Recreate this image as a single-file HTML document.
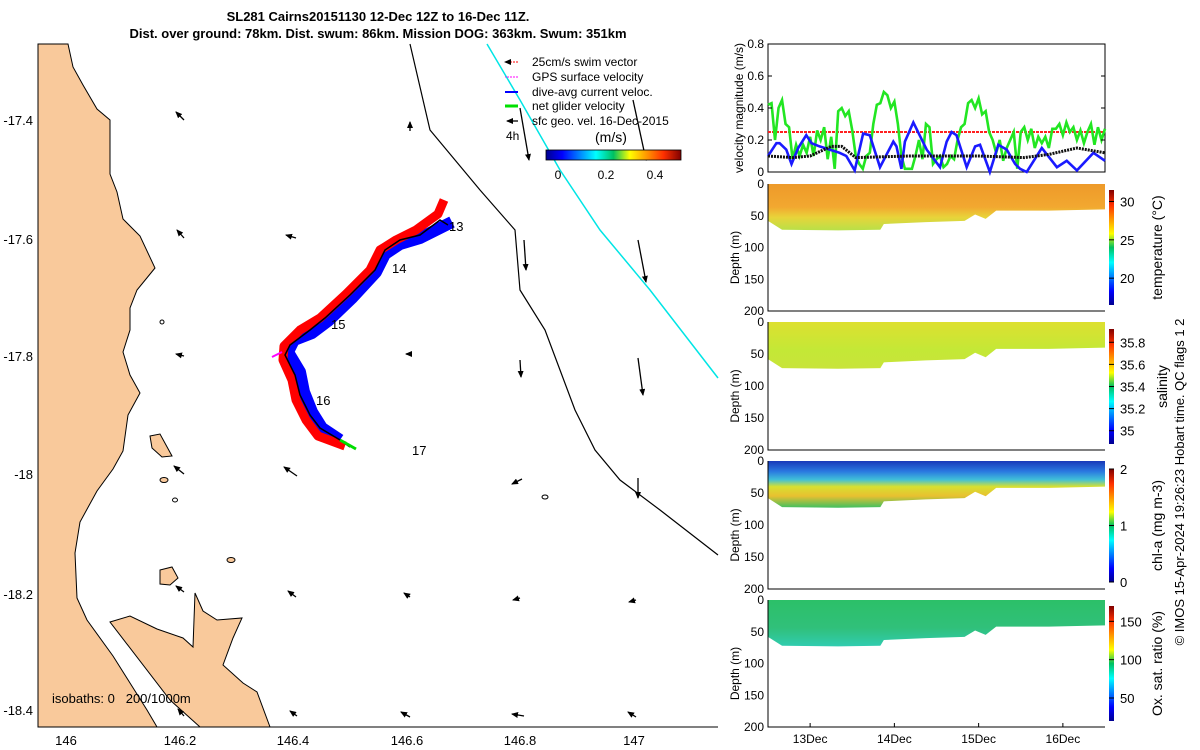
<!DOCTYPE html>
<html><head><meta charset="utf-8"><style>
html,body{margin:0;padding:0;background:#fff;}
svg{display:block;font-family:"Liberation Sans","DejaVu Sans",sans-serif;}
</style></head><body>
<svg id="fig" width="1200" height="750" viewBox="0 0 1200 750">
<defs>
<linearGradient id="jetV" x1="0" y1="1" x2="0" y2="0">
<stop offset="0" stop-color="#00008f"/><stop offset="0.12" stop-color="#0000ff"/><stop offset="0.37" stop-color="#00ffff"/><stop offset="0.5" stop-color="#00c060"/><stop offset="0.62" stop-color="#ffff00"/><stop offset="0.87" stop-color="#ff3000"/><stop offset="1" stop-color="#800000"/></linearGradient>
<linearGradient id="jetH" x1="0" y1="0" x2="1" y2="0">
<stop offset="0" stop-color="#00008f"/><stop offset="0.12" stop-color="#0000ff"/><stop offset="0.37" stop-color="#00ffff"/><stop offset="0.5" stop-color="#00c060"/><stop offset="0.62" stop-color="#ffff00"/><stop offset="0.87" stop-color="#ff3000"/><stop offset="1" stop-color="#800000"/></linearGradient>
<linearGradient id="gTemp" x1="0" y1="0" x2="0" y2="1"><stop offset="0" stop-color="#ee9a2a"/><stop offset="0.5" stop-color="#f2a830"/><stop offset="0.72" stop-color="#e8d43a"/><stop offset="1" stop-color="#b8e048"/></linearGradient>
<linearGradient id="gSal" x1="0" y1="0" x2="0" y2="1"><stop offset="0" stop-color="#dde030"/><stop offset="0.6" stop-color="#c4e836"/><stop offset="1" stop-color="#c8e43a"/></linearGradient>
<linearGradient id="gChl" x1="0" y1="0" x2="0" y2="1"><stop offset="0" stop-color="#1838b8"/><stop offset="0.22" stop-color="#2a78e0"/><stop offset="0.4" stop-color="#40c0d8"/><stop offset="0.55" stop-color="#d8e030"/><stop offset="0.75" stop-color="#e8c030"/><stop offset="1" stop-color="#40c060"/></linearGradient>
<linearGradient id="gOx" x1="0" y1="0" x2="0" y2="1"><stop offset="0" stop-color="#2cc068"/><stop offset="0.6" stop-color="#30c07a"/><stop offset="1" stop-color="#30ccb0"/></linearGradient>
<marker id="ah" markerUnits="userSpaceOnUse" markerWidth="7" markerHeight="6" refX="6" refY="3" orient="auto"><path d="M0,0 L7,3 L0,6 z" fill="#000"/></marker>
</defs>

<text x="378" y="21" text-anchor="middle" font-size="13" font-weight="bold">SL281 Cairns20151130 12-Dec 12Z to 16-Dec 11Z.</text>
<text x="378" y="38" text-anchor="middle" font-size="13" font-weight="bold">Dist. over ground: 78km. Dist. swum: 86km. Mission DOG: 363km. Swum: 351km</text>

<g id="map">
<path fill="#f9c99b" stroke="#000" stroke-width="1" d="M38,44 L68,44 L73,67 L83,85 L97,109 L110,120 L110,174 L117,192 L123,219 L140,236 L155,268 L137,290 L130,308 L130,330 L123,352 L130,375 L140,393 L128,415 L123,451 L113,469 L97,491 L80,522 L75,553 L77,598 L87,620 L113,656 L130,683 L147,710 L157,727 L38,727 Z"/>
<path fill="#f9c99b" stroke="#000" stroke-width="1" d="M110,622 L130,616 L157,629 L183,638 L193,647 L195,593 L203,611 L217,620 L242,618 L233,638 L223,665 L243,683 L257,692 L270,727 L200,727 L170,700 Z"/>
<path fill="#f9c99b" stroke="#000" d="M150,436 L160,434 L166,445 L172,456 L162,457 L152,448 Z"/>
<path fill="#f9c99b" stroke="#000" d="M160,570 L172,567 L178,578 L170,585 L160,584 Z"/>
<ellipse cx="164" cy="480" rx="4" ry="2.5" fill="#f9c99b" stroke="#000"/>
<ellipse cx="175" cy="500" rx="2.5" ry="2" fill="none" stroke="#000"/>
<ellipse cx="231" cy="560" rx="4" ry="2.5" fill="#f9c99b" stroke="#000"/>
<ellipse cx="545" cy="497" rx="3" ry="2" fill="none" stroke="#000"/>
<ellipse cx="162" cy="322" rx="2" ry="2" fill="none" stroke="#000"/>
<polyline fill="none" stroke="#000" stroke-width="1.2" points="410,44 430,130 480,190 515,230 520,290 545,330 560,370 575,410 595,450 620,480 660,510 718,555"/>
<polyline fill="none" stroke="#00e5e5" stroke-width="1.5" points="487,44 520,100 560,170 600,230 650,290 718,378"/>
<g id="arrows" stroke="#000" stroke-width="1.3" fill="none">
<line x1="184" y1="120" x2="176" y2="112" marker-end="url(#ah)"/>
<line x1="410" y1="131" x2="410" y2="122" marker-end="url(#ah)"/>
<line x1="520" y1="108" x2="529" y2="160" marker-end="url(#ah)"/>
<line x1="633" y1="100" x2="646" y2="160" marker-end="url(#ah)"/>
<line x1="184" y1="238" x2="177" y2="230" marker-end="url(#ah)"/>
<line x1="296" y1="238" x2="286" y2="235" marker-end="url(#ah)"/>
<line x1="524" y1="240" x2="526" y2="270" marker-end="url(#ah)"/>
<line x1="638" y1="240" x2="646" y2="282" marker-end="url(#ah)"/>
<line x1="184" y1="356" x2="176" y2="354" marker-end="url(#ah)"/>
<line x1="410" y1="354" x2="406" y2="354" marker-end="url(#ah)"/>
<line x1="520" y1="360" x2="521" y2="377" marker-end="url(#ah)"/>
<line x1="638" y1="358" x2="643" y2="395" marker-end="url(#ah)"/>
<line x1="184" y1="474" x2="174" y2="466" marker-end="url(#ah)"/>
<line x1="297" y1="476" x2="284" y2="467" marker-end="url(#ah)"/>
<line x1="522" y1="479" x2="512" y2="484" marker-end="url(#ah)"/>
<line x1="638" y1="478" x2="638" y2="498" marker-end="url(#ah)"/>
<line x1="184" y1="592" x2="176" y2="586" marker-end="url(#ah)"/>
<line x1="296" y1="597" x2="288" y2="591" marker-end="url(#ah)"/>
<line x1="410" y1="597" x2="404" y2="593" marker-end="url(#ah)"/>
<line x1="520" y1="598" x2="513" y2="600" marker-end="url(#ah)"/>
<line x1="636" y1="600" x2="629" y2="602" marker-end="url(#ah)"/>
<line x1="184" y1="716" x2="178" y2="709" marker-end="url(#ah)"/>
<line x1="297" y1="716" x2="290" y2="711" marker-end="url(#ah)"/>
<line x1="410" y1="717" x2="401" y2="712" marker-end="url(#ah)"/>
<line x1="524" y1="716" x2="512" y2="714" marker-end="url(#ah)"/>
<line x1="636" y1="717" x2="628" y2="712" marker-end="url(#ah)"/>
</g>
<polyline fill="none" stroke="#0000ff" stroke-width="12" stroke-linejoin="round" points="452,222 440,228 420,238 400,244 385,254 376,272 352,298 328,321 312,333 294,340 288,352 300,372 304,392 312,412 322,428 340,440"/>
<polyline fill="none" stroke="#ff0000" stroke-width="9" stroke-linejoin="round" points="444,200 438,214 416,230 396,240 380,250 370,270 346,294 320,318 300,330 284,346 283,360 292,380 296,400 306,420 318,436 345,446"/>
<polyline fill="none" stroke="#000" stroke-width="1.5" points="448,225 440,220 420,235 400,240 385,250 375,270 350,295 325,318 310,330 290,345 285,355 295,375 300,395 310,415 320,428 340,440 350,447"/>
<line x1="340" y1="440" x2="356" y2="449" stroke="#00dd00" stroke-width="3"/>
<line x1="282" y1="352" x2="272" y2="357" stroke="#ff00ff" stroke-width="2"/>
<g font-size="13">
<text x="449" y="231">13</text><text x="392" y="273">14</text><text x="331" y="329">15</text><text x="316" y="405">16</text><text x="412" y="455">17</text></g>
<line x1="38" y1="44" x2="38" y2="727" stroke="#000"/>
<line x1="38" y1="727" x2="718" y2="727" stroke="#000"/>
<text x="52" y="703" font-size="13">isobaths: 0 &#160; 200/1000m</text>
<g font-size="13" text-anchor="end">
<text x="33" y="125">-17.4</text><text x="33" y="244">-17.6</text><text x="33" y="361">-17.8</text><text x="33" y="479">-18</text><text x="33" y="599">-18.2</text><text x="33" y="715">-18.4</text></g>
<g font-size="13" text-anchor="middle">
<text x="66" y="745">146</text><text x="180" y="745">146.2</text><text x="293" y="745">146.4</text><text x="407" y="745">146.6</text><text x="520" y="745">146.8</text><text x="634" y="745">147</text></g>
<g font-size="12">
<line x1="518" y1="62" x2="505" y2="62" stroke="#ff0000" stroke-dasharray="2,1" marker-end="url(#ah)"/><text x="532" y="66">25cm/s swim vector</text>
<line x1="518" y1="77" x2="505" y2="77" stroke="#ff00ff" stroke-dasharray="2,1"/><text x="532" y="81">GPS surface velocity</text>
<line x1="518" y1="92" x2="505" y2="92" stroke="#0000ff" stroke-width="2"/><text x="532" y="96">dive-avg current veloc.</text>
<line x1="518" y1="106" x2="505" y2="106" stroke="#00e000" stroke-width="3"/><text x="532" y="110">net glider velocity</text>
<line x1="518" y1="121" x2="507" y2="121" stroke="#000" stroke-width="1.3" marker-end="url(#ah)"/><text x="532" y="125">sfc geo. vel. 16-Dec-2015</text>
<text x="506" y="140">4h</text>
<text x="595" y="142" font-size="14">(m/s)</text>
<rect x="546" y="150" width="135" height="10" fill="url(#jetH)" stroke="#000" stroke-width="0.8"/>
<text x="558" y="179" text-anchor="middle">0</text><text x="606" y="179" text-anchor="middle">0.2</text><text x="655" y="179" text-anchor="middle">0.4</text>
</g>
</g>

<g id="vel">
<rect x="768" y="44" width="337" height="128" fill="none" stroke="#000"/>
<g id="velMarks"></g>
<text transform="translate(743,108) rotate(-90)" text-anchor="middle" font-size="12">velocity magnitude (m/s)</text>
<g id="velTicks" font-size="12" text-anchor="end"></g>
</g>
<g id="sections"></g>
<text transform="translate(1184,482) rotate(-90)" text-anchor="middle" font-size="13">© IMOS 15-Apr-2024 19:26:23 Hobart time. QC flags 1  2</text>
</svg>
<script>
const NS='http://www.w3.org/2000/svg';
const velTickValues=[0,0.2,0.4,0.6,0.8];
const greenValues=[0.42,0.43,0.2,0.4,0.45,0.3,0.28,0.08,0.17,0.1,0.17,0.12,0.22,0.1,0.26,0.2,0.28,0.08,0.22,0.02,0.38,0.4,0.35,0.38,0.26,0.1,0.05,0.02,0.1,0.12,0.3,0.42,0.43,0.5,0.48,0.4,0.44,0.3,0.1,0.02,0.02,0.02,0.1,0.2,0.08,0.3,0.28,0.05,0.08,0.1,0.03,0.05,0.1,0.08,0.2,0.28,0.3,0.43,0.45,0.4,0.46,0.36,0.38,0.25,0.2,0.12,0.2,0.07,0.15,0.2,0.25,0.02,0.25,0.28,0.2,0.27,0.15,0.22,0.18,0.22,0.15,0.27,0.27,0.3,0.23,0.31,0.25,0.28,0.2,0.26,0.18,0.25,0.3,0.17,0.28,0.2,0.27];
const blueHours=[0,2.4,3.3,5.2,6.7,8.6,10.9,12.4,14.7,17.6,20.4,22.3,24.7,27.1,29,31.9,35.7,36.6,38,39,41.4,45.2,49,50.9,52.3,53.7,56.6,59,60.4,63.2,65.6,68,70.4,71.8,73.7,78,82.3,85.1,88,92.7,96];
const blueValues=[0.1,0.18,0.18,0.14,0.05,0.15,0.23,0.18,0.16,0.14,0.12,0.1,0.01,0.24,0.23,0.03,0.19,0.16,0.02,0.19,0.31,0.14,0.03,0.19,0.25,0.23,0.03,0.16,0.17,0.0,0.17,0.14,0.05,0.02,0.0,0.15,0.03,0.07,0.01,0.12,0.07];
const blackHours=[0,7,12,18,21,25,40,60,73,80,88,96];
const blackValues=[0.1,0.09,0.1,0.16,0.16,0.09,0.1,0.1,0.09,0.11,0.15,0.12];
const swimSpeed=[0.25];
const dayLabels=['13Dec','14Dec','15Dec','16Dec'];
const dayHours=[12,36,60,84];
const depthTicks=[0,50,100,150,200];
const bottomHours=[0,4,20,32,33,45,56,59,62,65,80,96];
const bottomDepths=[58,72,73,72,63,60,58,48,55,42,42,40];
const tempTicks=[20,25,30];const tempRange=[16.5,31.5];
const salTicks=[35,35.2,35.4,35.6,35.8];const salRange=[34.88,35.92];
const chlTicks=[0,1,2];const chlRange=[0,2];
const oxTicks=[50,100,150];const oxRange=[20,170];

const X=h=>768+h*(337/96);
const VY=v=>172-v*160;
function mk(tag,parent){const e=document.createElementNS(NS,tag);parent.appendChild(e);return e;}

const vm=document.getElementById('velMarks');
let sw=mk('line',vm);


sw.setAttribute('x1',X(0));sw.setAttribute('x2',X(96));sw.setAttribute('y1',VY(swimSpeed[0]));sw.setAttribute('y2',VY(swimSpeed[0]));
sw.setAttribute('stroke','#ff2020');sw.setAttribute('stroke-width','2');sw.setAttribute('stroke-dasharray','3,1');
let g=mk('polyline',vm);


g.setAttribute('points',greenValues.map((v,i)=>X(i)+','+VY(v)).join(' '));
g.setAttribute('fill','none');g.setAttribute('stroke','#22e622');g.setAttribute('stroke-width','2.6');
let b=mk('polyline',vm);


b.setAttribute('points',blueHours.map((h,i)=>X(h)+','+VY(blueValues[i])).join(' '));
b.setAttribute('fill','none');b.setAttribute('stroke','#1a1aff');b.setAttribute('stroke-width','2.6');
let k=mk('polyline',vm);


k.setAttribute('points',blackHours.map((h,i)=>X(h)+','+VY(blackValues[i])).join(' '));
k.setAttribute('fill','none');k.setAttribute('stroke','#111');k.setAttribute('stroke-width','3');k.setAttribute('stroke-dasharray','2,1');
const vt=document.getElementById('velTicks');
velTickValues.forEach(v=>{
 let t=mk('text',vt);
 
 
 t.setAttribute('x',764);t.setAttribute('y',VY(v)+4);t.textContent=v;
 let l=mk('line',vt);l.setAttribute('x1',1105);l.setAttribute('x2',1101);l.setAttribute('y1',VY(v));l.setAttribute('y2',VY(v));l.setAttribute('stroke','#000');
 let l2=mk('line',vt);l2.setAttribute('x1',768);l2.setAttribute('x2',772);l2.setAttribute('y1',VY(v));l2.setAttribute('y2',VY(v));l2.setAttribute('stroke','#000');
});

const panels=[
 {name:'temperature',top:184,bot:311,fill:'url(#gTemp)',label:'temperature (°C)',ticks:tempTicks,range:tempRange,cb:[190,305]},
 {name:'salinity',top:322,bot:450,fill:'url(#gSal)',label:'salinity',ticks:salTicks,range:salRange,cb:[329,444]},
 {name:'chlorophyll',top:461,bot:589,fill:'url(#gChl)',label:'chl-a (mg m-3)',ticks:chlTicks,range:chlRange,cb:[469,582]},
 {name:'oxygen',top:600,bot:727,fill:'url(#gOx)',label:'Ox. sat. ratio (%)',ticks:oxTicks,range:oxRange,cb:[606,721]}
];
const sec=document.getElementById('sections');
panels.forEach((p,pi)=>{
 const D=d=>p.top+d*(p.bot-p.top)/200;
 const grp=mk('g',sec);
 
 
 let pts=[X(0)+','+D(0),X(96)+','+D(0)];
 for(let i=bottomHours.length-1;i>=0;i--)pts.push(X(bottomHours[i])+','+D(bottomDepths[i]));
 let poly=mk('polygon',grp);
 
 
 poly.setAttribute('points',pts.join(' '));poly.setAttribute('fill',p.fill);
 let ax=mk('polyline',grp);ax.setAttribute('points','768,'+p.top+' 768,'+p.bot+' 1105,'+p.bot);ax.setAttribute('fill','none');ax.setAttribute('stroke','#000');
 depthTicks.forEach(d=>{
  let t=mk('text',grp);
  
  
  t.setAttribute('x',764);t.setAttribute('y',D(d)+4);t.setAttribute('text-anchor','end');t.setAttribute('font-size','12');t.textContent=d;
 });
 let yl=mk('text',grp);
 
 
 yl.setAttribute('transform','translate(739,'+((p.top+p.bot)/2+10)+') rotate(-90)');yl.setAttribute('text-anchor','middle');yl.setAttribute('font-size','12');yl.textContent='Depth (m)';
 let cb=mk('rect',grp);
 
 
 cb.setAttribute('x',1109);cb.setAttribute('y',p.cb[0]);cb.setAttribute('width',5);cb.setAttribute('height',p.cb[1]-p.cb[0]);cb.setAttribute('fill','url(#jetV)');
 const C=v=>p.cb[1]-(v-p.range[0])/(p.range[1]-p.range[0])*(p.cb[1]-p.cb[0]);
 p.ticks.forEach(v=>{
  let t=mk('text',grp);
  
  
  t.setAttribute('x',1120);t.setAttribute('y',C(v)+5);t.setAttribute('font-size','13');t.textContent=v;
  let l=mk('line',grp);l.setAttribute('x1',1109);l.setAttribute('x2',1114);l.setAttribute('y1',C(v));l.setAttribute('y2',C(v));l.setAttribute('stroke','#000');
 });
 let cl=mk('text',grp);
 
 
 cl.setAttribute('transform','translate('+(pi==1?1167:1162)+','+((p.cb[0]+p.cb[1])/2)+') rotate(-90)');cl.setAttribute('text-anchor','middle');cl.setAttribute('font-size','14');cl.textContent=p.label;
});
dayLabels.forEach((d,i)=>{
 let t=mk('text',sec);
 
 
 t.setAttribute('x',X(dayHours[i]));t.setAttribute('y',743);t.setAttribute('text-anchor','middle');t.setAttribute('font-size','12');t.textContent=d;
 let l=mk('line',sec);l.setAttribute('x1',X(dayHours[i]));l.setAttribute('x2',X(dayHours[i]));l.setAttribute('y1',727);l.setAttribute('y2',723);l.setAttribute('stroke','#000');
});
</script>
</body></html>
